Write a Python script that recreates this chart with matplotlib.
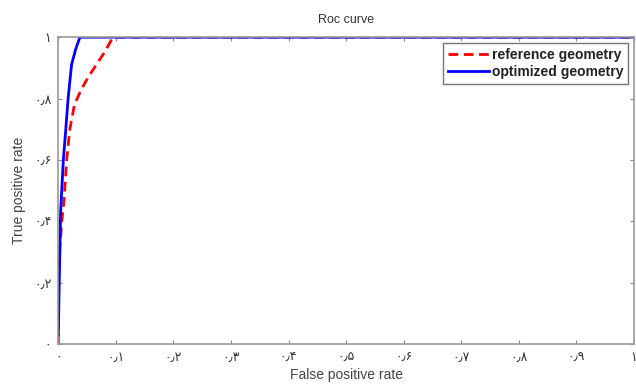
import matplotlib
matplotlib.use("Agg")
import matplotlib.pyplot as plt

plt.rcParams['font.family'] = ['Liberation Sans', 'DejaVu Sans']

# ROC points
ref_fpr = [0.0, 0.0, 0.002, 0.006, 0.010, 0.0145, 0.020, 0.028, 0.040, 0.052, 0.066, 0.080, 0.095, 1.0]
ref_tpr = [0.0, 0.20, 0.30, 0.40, 0.47, 0.60, 0.70, 0.78, 0.83, 0.87, 0.91, 0.95, 1.0, 1.0]
opt_fpr = [0.0, 0.0017, 0.004, 0.0087, 0.013, 0.017, 0.023, 0.030, 0.0375, 1.0]
opt_tpr = [0.03, 0.21, 0.43, 0.60, 0.70, 0.80, 0.91, 0.96, 1.0, 1.0]

xticks = [0.0, 0.1, 0.2, 0.3, 0.4, 0.5, 0.6, 0.7, 0.8, 0.9, 1.0]
xlabels = ['۰', '۰٫۱', '۰٫۲', '۰٫۳', '۰٫۴', '۰٫۵', '۰٫۶', '۰٫۷', '۰٫۸', '۰٫۹', '۱']
yticks = [0.0, 0.2, 0.4, 0.6, 0.8, 1.0]
ylabels = ['۰', '۰٫۲', '۰٫۴', '۰٫۶', '۰٫۸', '۱']

fig = plt.figure(figsize=(6.36, 3.87), dpi=100)
ax = fig.add_axes([0.0917, 0.111, 0.905, 0.793])

ax.plot(ref_fpr, ref_tpr, color='red', linestyle='--', linewidth=2, dashes=(3.5, 2),
        label='reference geometry')
ax.plot(opt_fpr, opt_tpr, color='blue', linewidth=2, label='optimized geometry')

ax.set_xlim(0, 1)
ax.set_ylim(0, 1)
ax.set_xticks(xticks)
ax.set_xticklabels(xlabels, family=['DejaVu Sans'])
ax.set_yticks(yticks)
ax.set_yticklabels(ylabels, family=['DejaVu Sans'])
ax.tick_params(direction='in', top=True, right=True, length=3, color='#888888',
               labelsize=9, labelcolor='#333333', pad=5)
for s in ax.spines.values():
    s.set_color('#999999')
    s.set_linewidth(1.2)

ax.set_title('Roc curve', fontsize=9, color='#333333', pad=10)
ax.set_xlabel('False positive rate', fontsize=10, color='#444444', labelpad=3)
ax.set_ylabel('True positive rate', fontsize=10, color='#444444', labelpad=6)

leg = ax.legend(loc='upper right', handlelength=3.0, borderpad=0.35,
                labelspacing=0.25, handletextpad=0.2, fancybox=False, framealpha=1,
                borderaxespad=0.4, prop={'weight': 'bold', 'size': 10})
leg.get_frame().set_edgecolor('#777777')
for t in leg.get_texts():
    t.set_color('#222222')

fig.savefig('out.png', dpi=100)
